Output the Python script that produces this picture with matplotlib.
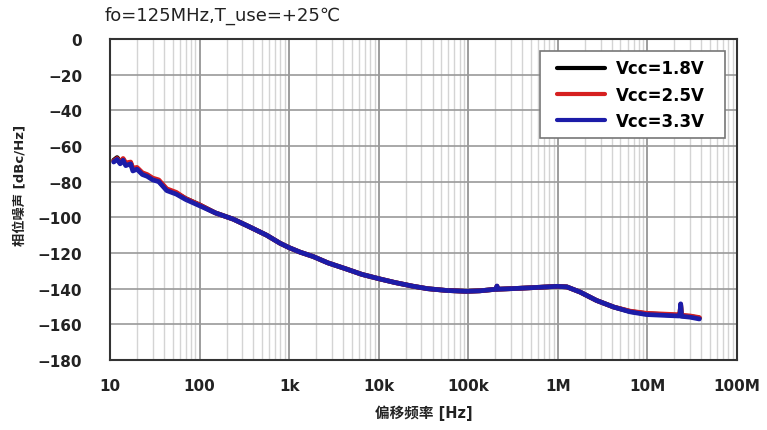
import matplotlib
matplotlib.use('Agg')
import matplotlib.pyplot as plt
from matplotlib.ticker import FixedLocator, LogLocator, NullFormatter
from matplotlib.legend_handler import HandlerLine2D

plt.rcParams['font.family'] = ['DejaVu Sans', 'Noto Sans CJK SC']

# 偏移频率 (Hz)
freq = [11, 12, 13, 14, 15, 17, 18, 20, 23, 26, 30, 35, 43, 55, 70, 100, 150, 237, 350,
        560, 790, 1000, 1320, 1860, 2700, 4370, 6500, 10200, 15000, 24000, 35000, 57000,
        95000, 135000, 187000, 205000, 209000, 213000, 300000, 490000, 980000, 1260000,
        1770000, 2700000, 4200000, 6400000, 9700000, 16000000, 22000000, 23000000,
        23500000, 24000000, 30000000, 38000000]

# 相位噪声 (dBc/Hz)
pn_18 = [-68, -66.5, -69, -67.5, -70, -69.5, -73, -72.5, -75.5, -76.5, -78.5, -79.5, -84.5,
         -86.5, -89.5, -93, -97.5, -101, -105, -110, -114.5, -117, -119.5, -122, -125.5,
         -129, -132, -134.5, -136.5, -138.6, -140, -141, -141.5, -141.2, -140.5, -140.3,
         -138.8, -140.3, -140, -139.5, -138.7, -139, -141.9, -146.6, -150.3, -152.8, -154,
         -154.6, -155, -155, -149, -155.2, -155.6, -156.5]
pn_25 = [-68.5, -67, -69.5, -67, -69.5, -69, -72.5, -72, -75, -76, -78, -79, -84, -86,
         -89.5, -93, -97.5, -101, -105, -110, -114.5, -117, -119.5, -122, -125.5, -129,
         -132, -134.5, -136.5, -138.6, -140, -141, -141.5, -141.2, -140.5, -140.3, -138.6,
         -140.3, -140, -139.5, -138.7, -139, -141.9, -146.6, -150.3, -152.6, -153.8,
         -154.3, -154.6, -154.7, -148.8, -154.9, -155.3, -156.2]
pn_33 = [-69, -67.5, -70, -68, -71, -70, -74, -73, -76, -77, -79, -80, -85, -87, -90,
         -93.5, -97.5, -101, -105, -110, -114.5, -117, -119.5, -122, -125.5, -129, -132,
         -134.5, -136.5, -138.6, -140, -141, -141.5, -141.2, -140.5, -140.3, -138.5,
         -140.3, -140, -139.5, -138.7, -139, -141.9, -146.6, -150.3, -153, -154.5, -155,
         -155.3, -155.3, -148.5, -155.5, -156, -157]

series = [('Vcc=1.8V', pn_18, 'black'),
          ('Vcc=2.5V', pn_25, '#d62020'),
          ('Vcc=3.3V', pn_33, '#1c1ca8')]

x_ticks = [10, 100, 1e3, 1e4, 1e5, 1e6, 1e7, 1e8]
x_labels = ['10', '100', '1k', '10k', '100k', '1M', '10M', '100M']
y_ticks = list(range(-180, 1, 20))

fig = plt.figure(figsize=(7.67, 4.31), dpi=100)
ax = fig.add_axes([0.1434, 0.1624, 0.8175, 0.7448])

for label, vals, color in series:
    ax.plot(freq, vals, color=color, lw=3.4, label=label, solid_capstyle='round')

ax.set_xscale('log')
ax.set_xlim(10, 1e8)
ax.set_ylim(-180, 0)
ax.xaxis.set_major_locator(FixedLocator(x_ticks))
ax.set_xticklabels(x_labels)
ax.xaxis.set_minor_locator(LogLocator(base=10, subs=range(2, 10), numticks=20))
ax.xaxis.set_minor_formatter(NullFormatter())
ax.set_yticks(y_ticks)
ax.set_yticklabels([('\u2212%d' % -v) if v < 0 else '%d' % v for v in y_ticks])

ax.grid(True, which='major', axis='x', color='#8c8c8c', lw=1.2)
ax.grid(True, which='minor', axis='x', color='#d4d4d4', lw=1.0)
ax.grid(True, which='major', axis='y', color='#9a9a9a', lw=1.2)
ax.set_axisbelow(True)

ax.tick_params(which='both', length=0)
ax.tick_params(axis='x', pad=13)
ax.tick_params(axis='y', pad=20)
for t in ax.get_xticklabels() + ax.get_yticklabels():
    t.set_fontsize(11)
    t.set_fontweight('bold')
    t.set_color('#222222')

for s in ax.spines.values():
    s.set_color('#333333')
    s.set_linewidth(1.5)

ax.set_xlabel('偏移频率 [Hz]', fontsize=10.5, fontweight='bold', color='#222222', labelpad=8)
ax.set_ylabel('相位噪声 [dBc/Hz]', fontsize=9.5, fontweight='bold', color='#222222')
ax.yaxis.set_label_coords(-0.134, 0.548)

fig.text(0.137, 0.963, 'fo=125MHz,T_use=+25℃', fontsize=13, color='#222222',
         ha='left', va='center')

# 图例：左侧留白，线段内缩
hmap = {ln: HandlerLine2D(numpoints=2, marker_pad=0.54) for ln in ax.get_lines()}
leg = ax.legend(loc='upper left', bbox_to_anchor=(0.686, 0.5, 0.295, 0.4626),
                mode='expand', fancybox=False, framealpha=1, edgecolor='#777777',
                handlelength=3.96, handletextpad=0.06, handler_map=hmap,
                prop={'size': 12, 'weight': 'bold'}, borderpad=0.5, labelspacing=0.5,
                borderaxespad=0)
leg.get_frame().set_linewidth(1.2)
for line in leg.get_lines():
    line.set_linewidth(3)

fig.savefig('out.png', dpi=100)
